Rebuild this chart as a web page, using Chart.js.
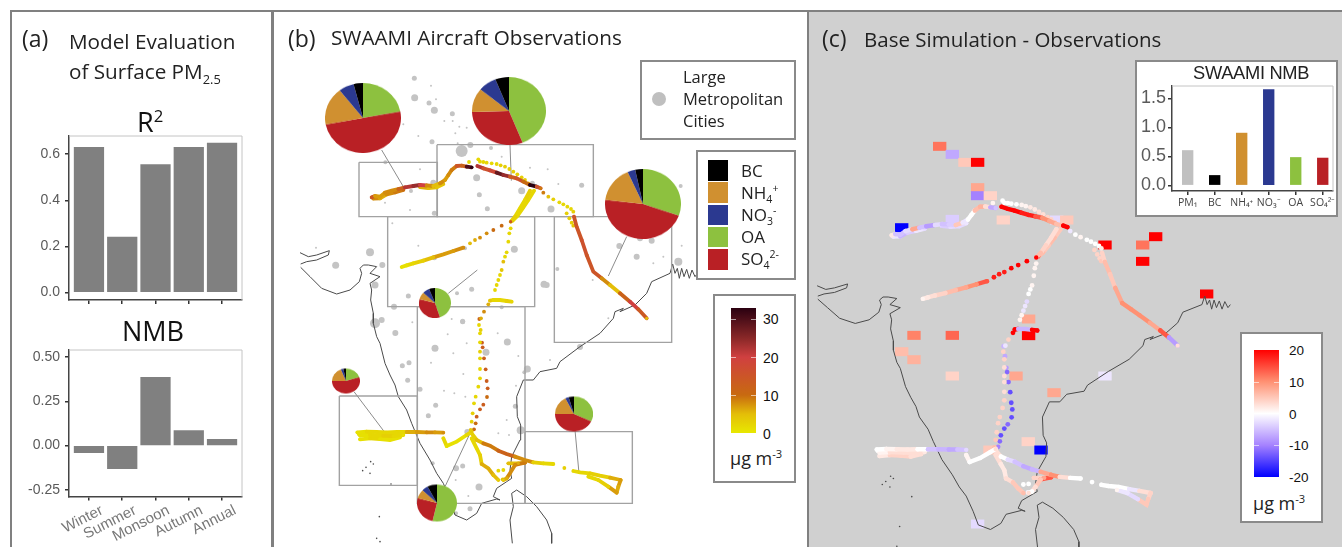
<!DOCTYPE html>
<html><head><meta charset="utf-8">
<script src="https://cdn.jsdelivr.net/npm/chart.js@4"></script>
<style>
html,body{margin:0;padding:0;background:#fff;width:1342px;height:547px;overflow:hidden}
#page{position:relative;width:1342px;height:547px;overflow:hidden;filter:blur(0.45px)}
#page>*{position:absolute}
canvas{position:absolute}
.t{font-family:"Open Sans",sans-serif;color:#222;white-space:nowrap;line-height:1}
.a{font-family:"Liberation Sans",sans-serif;white-space:nowrap;line-height:1}
.box{background:#fff;border:2px solid #8a8a8a;box-sizing:border-box}
.line{background:#808080}
sub,sup{font-size:62%;line-height:0}
</style></head><body><div id="page">
<div class="line" style="left:10px;top:10px;width:1332px;height:2px"></div>
<div class="line" style="left:10px;top:10px;width:2px;height:537px"></div>
<div class="line" style="left:271px;top:10px;width:3px;height:537px"></div>
<div style="left:808px;top:12px;width:534px;height:535px;background:#d0d0d0"></div>
<div class="line" style="left:807px;top:10px;width:2px;height:537px"></div>

<canvas id="r2" width="240" height="183" style="left:10px;top:130px"></canvas>
<canvas id="nmb" width="240" height="202" style="left:10px;top:345px"></canvas>
<canvas id="mapB" width="532" height="547" style="left:275px;top:0"></canvas>
<canvas id="mapC" width="533" height="547" style="left:809px;top:0"></canvas>

<div class="t" style="left:22px;top:27px;font-size:23px">(a)</div>
<div class="t" style="left:69px;top:31px;font-size:20.7px">Model Evaluation</div>
<div class="t" style="left:69px;top:61px;font-size:20.7px">of Surface PM<sub>2.5</sub></div>
<div class="t" style="left:137px;top:108px;font-size:27px;color:#111">R<sup>2</sup></div>
<div class="t" style="left:122px;top:317px;font-size:27px;color:#111">NMB</div>
<div class="t" style="left:288px;top:27px;font-size:23px">(b)</div>
<div class="t" style="left:331px;top:27px;font-size:20.7px">SWAAMI Aircraft Observations</div>
<div class="t" style="left:822px;top:27px;font-size:23px">(c)</div>
<div class="t" style="left:864px;top:29px;font-size:20.5px">Base Simulation - Observations</div>

<div class="box" style="left:640px;top:60px;width:156px;height:80px"></div>
<div style="left:652px;top:92px;width:14px;height:14px;border-radius:50%;background:#bfbfbf"></div>
<div class="t" style="left:683px;top:69px;font-size:16.5px">Large</div>
<div class="t" style="left:683px;top:91px;font-size:16.5px">Metropolitan</div>
<div class="t" style="left:683px;top:113px;font-size:16.5px">Cities</div>

<div class="box" style="left:696px;top:150px;width:100px;height:130px"></div>
<div id="swatches" style="left:0;top:0"></div>
<div class="t" style="left:741px;top:162px;font-size:17px">BC</div>
<div class="t" style="left:741px;top:184px;font-size:17px">NH<sub>4</sub><sup>+</sup></div>
<div class="t" style="left:741px;top:206px;font-size:17px">NO<sub>3</sub><sup>-</sup></div>
<div class="t" style="left:741px;top:228px;font-size:17px">OA</div>
<div class="t" style="left:741px;top:250px;font-size:17px">SO<sub>4</sub><sup>2-</sup></div>

<div class="box" style="left:713px;top:294px;width:83px;height:189px"></div>
<div id="barB" style="left:731px;top:308px;width:25px;height:125px"></div>
<div class="a" style="left:763px;top:312px;font-size:14px;color:#111">30</div>
<div class="a" style="left:763px;top:351px;font-size:14px;color:#111">20</div>
<div class="a" style="left:763px;top:389px;font-size:14px;color:#111">10</div>
<div class="a" style="left:763px;top:427px;font-size:14px;color:#111">0</div>
<div class="t" style="left:730px;top:449px;font-size:18px">µg m<sup>-3</sup></div>

<div class="box" style="left:1135px;top:60px;width:203px;height:157px"></div>
<canvas id="inset" width="200" height="134" style="left:1137px;top:82px"></canvas>
<div class="a" style="left:1193px;top:64px;font-size:18.3px;color:#222;letter-spacing:-.3px">SWAAMI NMB</div>

<div class="box" style="left:1240px;top:332px;width:83px;height:191px"></div>
<div id="barC" style="left:1254px;top:350px;width:25px;height:127px"></div>
<div class="a" style="left:1289px;top:344px;font-size:13.5px;color:#111">20</div>
<div class="a" style="left:1289px;top:376px;font-size:13.5px;color:#111">10</div>
<div class="a" style="left:1289px;top:408px;font-size:13.5px;color:#111">0</div>
<div class="a" style="left:1289px;top:439px;font-size:13.5px;color:#111">-10</div>
<div class="a" style="left:1289px;top:471px;font-size:13.5px;color:#111">-20</div>
<div class="t" style="left:1253px;top:494px;font-size:18px">µg m<sup>-3</sup></div>
<div id="pies" style="left:0;top:0"></div>
</div>
<script>
// ---------- panel (a) ----------
const seasons=["Winter","Summer","Monsoon","Autumn","Annual"];
const r2Values=[0.63,0.24,0.555,0.63,0.648];
const nmbValues=[-0.04,-0.13,0.385,0.085,0.035];
const r2Ticks=[0,0.2,0.4,0.6];
const nmbTicks=[-0.25,0,0.25,0.5];
// ---------- inset (c) ----------
const species=["PM₁","BC","NH₄⁺","NO₃⁻","OA","SO₄²⁻"];
const swaamiNmb=[0.6,0.17,0.9,1.65,0.48,0.47];
const swaamiTicks=[0,0.5,1,1.5];
// ---------- pies: OA, SO4, NH4, NO3, BC (%) ----------
const pieNw=[22,50,17.5,6.5,4];
const pieNorth=[44,30.6,11.4,8,6];
const pieEast=[30.4,46.5,16.5,3.3,3.3];
const pieCentre=[45,34,8,7,6];
const pieWest=[20,55,19,3,3];
const pieSouth=[53.6,25.6,8,5,7.8];
const pieSouthEast=[32,43,17.5,3,4.5];
// Map data: E = arc-minutes east of 69°E, S = arc-minutes south of 33°N
// flight legs: position, PM1 (µg m-3), model bias (µg m-3)
const nwE=[275,285,300,315,335,355,375,400,420,440,460,480,495,505,515,530,545,560,575];
const nwS=[412,408,410,398,392,387,382,378,375,376,378,370,360,345,330,318,317,320,322];
const nwPm=[14,7,7,8,8,12,22,24,20,8,5,8,7,8,9,15,12,30,33];
const nwBias=[2,-5,-5,-3,8,-5,-8,-3,-5,-4,5,-2,0,0,6,7,3,-7,-5];
const nw2E=[280,300,320,345,370];
const nw2S=[416,415,403,397,390];
const nw2Pm=[8,6,8,9,10];
const nw2Bias=[-2,-6,-4,-2,-3];
const nw3E=[420,445,470,490];
const nw3S=[381,384,382,372];
const nw3Pm=[6,5,4,5];
const nw3Bias=[-4,-3,-3,-2];
const delhiE=[592,610,630,650,670,690,710,730,750,770,782];
const delhiS=[318,325,331,338,345,350,355,365,375,380,385];
const delhiPm=[22,16,18,28,24,14,16,10,33,16,9];
const delhiBias=[20,20,20,18,18,14,10,8,6,20,20];
const topE=[567,595,600,610,620,635,650,662,675,688,700,712,725,735,745];
const topS=[306,298,305,306,308,310,312,316,320,327,335,343,352,360,370];
const topPm=[2,2,2,2,2,2,2,3,3,3,3,3,3,3,4];
const topBias=[1,0,0,0,0,0,1,1,2,2,3,3,4,4,5];
const se1E=[790,805,820,838,850,862,873,880];
const se1S=[398,410,418,427,433,440,447,455];
const se1Pm=[9,5,3,2,2,2,2,3];
const se1Bias=[-2,0,1,0,0,0,0,2];
const se2E=[860,868,875,880];
const se2S=[460,475,488,497];
const se2Pm=[3,3,3,4];
const se2Bias=[4,4,4,5];
const se3E=[882,890,905,920,940,965,990,1020,1050,1075,1100];
const se3S=[470,500,540,585,635,655,675,700,725,748,775];
const se3Pm=[15,15,16,15,15,8,5,12,20,14,5];
const se3Bias=[4,6,5,8,10,10,10,8,14,-8,3];
const sw1E=[750,735,720,705,692];
const sw1S=[392,420,445,470,485];
const sw1Pm=[3,2,2,3,14];
const sw1Bias=[3,3,4,6,20];
const sw2E=[762,745,728,712,698];
const sw2S=[392,420,445,468,482];
const sw2Pm=[2,2,2,2,4];
const sw2Bias=[5,6,5,6,14];
const sw3E=[665,640,620,600,585,570];
const sw3S=[497,510,520,533,540,550];
const sw3Pm=[10,10,8,8,6,5];
const sw3Bias=[20,20,20,18,18,18];
const sw4E=[550,520,490,460,430,400,380,365];
const sw4S=[563,573,583,592,602,610,616,621];
const sw4Pm=[8,7,7,5,3,2,1,1];
const sw4Bias=[14,10,8,6,4,3,2,1];
const so1E=[692,688,685,680,675,670,665,660,655,650,645];
const so1S=[505,520,545,577,590,605,630,645,660,675,690];
const so1Pm=[2,2,2,2,2,5,4,2,2,2,2];
const so1Bias=[1,1,1,1,0,0,-3,-2,-2,1,1];
const jctE=[630,640,660,680,695];
const jctS=[722,720,720,723,725];
const jctPm=[4,2,2,3,2];
const jctBias=[20,-6,-6,20,20];
const so2E=[625,612,603,597,600,600,600,600,600,600,595,587,582,578,575,572];
const so2S=[733,755,775,795,820,847,875,895,927,955,980,1010,1030,1060,1085,1110];
const so2Pm=[6,8,6,2,2,2,3,2,2,2,2,2,2,3,3,4];
const so2Bias=[20,4,-2,4,4,3,3,3,3,4,4,4,4,4,5,6];
const so3E=[598,602,606,608,612,617,620,623,621,610,600,590,587,582];
const so3S=[777,810,848,862,895,928,963,985,1011,1034,1048,1070,1090,1108];
const so3Pm=[12,3,13,13,13,13,13,13,10,13,13,13,10,10];
const so3Bias=[-6,-7,-8,-12,-12,-14,-14,-14,-14,-12,-14,-14,-12,-10];
const wi1E=[232,260,290,320,350,380,410,440,465,490];
const wi1S=[1117,1115,1116,1117,1116,1116,1116,1117,1117,1118];
const wi1Pm=[1,2,2,2,2,6,7,8,7,8];
const wi1Bias=[0,1,2,2,0,-5,-6,-7,-5,-3];
const wi2E=[240,270,310,340,370];
const wi2S=[1127,1125,1127,1128,1125];
const wi2Pm=[1,2,3,2,1];
const wi2Bias=[1,3,3,3,2];
const wi3E=[240,270,300,330,360];
const wi3S=[1138,1135,1137,1140,1132];
const wi3Pm=[1,2,1,1,1];
const wi3Bias=[2,4,4,3,3];
const wi4E=[236,262,295,325,355];
const wi4S=[1122,1120,1131,1133,1121];
const wi4Pm=[1,1,2,2,1];
const wi4Bias=[0,2,5,4,1];
const zigE=[490,500,530,560,575];
const zigS=[1135,1158,1145,1125,1115];
const zigPm=[2,1,1,2,4];
const zigBias=[1,0,0,0,3];
const hubE=[575,590,610,630,655,680,705,735,760,790,820];
const hubS=[1120,1140,1150,1157,1172,1182,1190,1200,1207,1210,1212];
const hubPm=[3,5,9,9,12,12,8,8,3,2,2];
const hubBias=[3,0,-3,-5,-7,-6,8,10,3,0,0];
const lone1E=[853];const lone1S=[1224];const lone1Pm=[3];const lone1Bias=[0];
const farE=[880,900,930,960,990,1022,1015,1010,985,955,925];
const farS=[1233,1237,1240,1247,1253,1260,1280,1298,1280,1260,1250];
const farPm=[2,2,3,3,6,7,6,7,3,2,2];
const farBias=[0,0,0,-2,3,4,5,5,-3,-2,1];
const retE=[685,715,735,705,690,680,670];
const retS=[1210,1210,1208,1215,1240,1255,1260];
const retPm=[5,6,9,8,8,6,3];
const retBias=[4,8,14,5,3,0,3];
const hsE=[575,590,600,605,625,640,655];
const hsS=[1135,1165,1185,1212,1225,1245,1260];
const hsPm=[2,2,3,6,6,5,3];
const hsBias=[3,2,2,3,5,5,6];
const spE=[655,670,668];const spS=[1232,1230,1258];const spPm=[2,2,4];const spBias=[0,0,-1];
// cities
const cityE=[403,453,404,447,463,468,517,493,518,526,538,560,456,415,370,545,571,533,633,665,590,598,622,725,750,803,905,835,813,757,820,316,420,460,393,315,390,463,337,415,463,555,703,270,167,307,285,385,342,531,575,665,548,792,800,832,1018,1070,1115,1080,1195,1202,1205,1150,1120,938,108,285,305,346,397,548,515,503,653,682,465,560,618,520,453,367,387,383,420,550,492,523,467,445,556,715,742,733,708,706,722,655,687,680,562,548,528,458,597,527,570,528,565,900,810,985];
const cityS=[55,77,113,129,151,118,161,183,183,220,200,203,245,228,193,273,255,250,264,290,353,404,446,392,323,328,376,372,447,370,420,307,328,368,393,428,450,460,490,557,593,565,568,577,616,615,675,708,740,700,688,742,785,673,675,627,558,590,542,535,605,378,557,590,610,660,563,790,780,819,787,784,777,823,820,846,865,850,877,880,908,917,908,961,988,942,992,1000,1036,1067,1010,888,927,937,977,1039,1111,1120,1125,1080,1116,1218,1225,1210,1281,1260,1346,1360,1308,861,900,775];
const cityRank=[2.5,1,3.5,2.5,3.5,1,2.5,1,1,1,1,1,2.5,1,1,6,3,1,2,1,3.5,2.5,2.5,3.5,1,1,2.5,1,3.5,2.5,1,2,1,3,2,1,1,2.5,1,1,2.5,2,3.5,4,3.5,3,3.5,2.5,3,2,2.5,2,2.5,3.5,3,2,3,3,3,3,4,2,1,1,1,1,1,5,3,3,1,2.5,1,1,1,3.5,3.5,1,3.5,1,1,2.5,2.5,2.5,2.5,1,1,1,2.5,2.5,1,1,3.5,2,1,2.5,4,1,1,1,3,2.5,3,2,3.5,1,2.5,2,1,3,1,1];
const islandE=[248,270,280,333,298,290,300,272,258];
const islandS=[1232,1240,1212,1272,1370,1435,1445,1205,1222];
// coast
const kutchE=[60,85,110,148,145,110,80,62];
const kutchS=[578,590,585,572,585,600,605,612];
const coastE=[62,90,125,170,210,238,245,240,250,265,290,270,300,270,275,272,280,280,290,300,315,330,345,355,380,395,420,450,470,490,510,525,560,590,605,650,660,640,650,680,695,690,695,720,722,712,710,730,760,780,830,840,900,960,1000,1005,1030,1020,1065,1100,1115,1170,1178,1185,1192,1198,1205,1212,1220,1228,1236,1245,1252];
const coastS=[622,650,685,702,690,665,640,625,615,615,620,640,650,670,690,720,760,790,830,850,910,945,975,1010,1050,1090,1150,1200,1240,1270,1320,1365,1380,1360,1330,1317,1320,1310,1285,1265,1255,1230,1190,1140,1095,1070,1010,960,960,935,925,905,860,820,775,755,745,755,735,700,665,640,612,640,625,655,625,650,628,655,630,650,640];
const lankaE=[697,690,700,695,710,740,770,800,815,815];
const lankaS=[1450,1380,1340,1300,1290,1310,1340,1380,1420,1450];
// sampling regions and pie leader lines
const regionW=[237,471,323,412,735,178,823];
const regionEast=[472,940,764,735,1057,412,1175];
const regionN=[307,254,470,740,1115,1008,470];
const regionSouth=[470,470,740,1330,1330,1276,847];
const leadE0=[305,690,1040,505,222,495,885];
const leadS0=[270,255,530,700,995,1280,1110];
const leadE1=[370,694,985,592,318,570,897];
const leadS1=[380,362,648,630,1122,1120,1240];
// surface grid cells in (c)
const cellE=[413.5,450,486.5,523,523,523,559.6,450,597,304,751,780,890.4,999,1036.5,999,1183.6,670,670,339.4,450,304,339.4,450,633.7,743.3,890.4,669,705.8,558.6,523];
const cellS=[119.2,145.6,171.9,171.9,255.2,281.6,281.6,359.4,361.6,386.9,361.6,361.6,443.9,443.9,416.5,497.7,605,687.4,742.2,741.2,741.2,794.9,821.2,875,875,929.8,875,1091,1118.5,1118.5,1362];
const cellBias=[12,-7,5,20,8,-10,4,-4,4,-20,-3,5,20,12,20,20,20,8,20,11,13,6,7,4,8,8,-2,4,-20,5,-3];
// colour scales
const pmStops=[0,5,10,20,25,33];
const pmColors=[[232,232,0],[228,190,8],[200,106,16],[208,64,64],[138,40,40],[42,0,16]];
const biasStops=[-20,-10,0,10,20];
const biasColors=[[0,0,255],[165,130,255],[255,255,255],[255,145,115],[255,0,0]];
const chemColors={BC:"#000000",NH4:"#d09030",NO3:"#2b3990",OA:"#8dc13f",SO4:"#b92025",PM:"#c0c0c0"};

function ramp(stops,cols,v){
  if(v<=stops[0])return `rgb(${cols[0]})`;
  for(let i=1;i<stops.length;i++){if(v<=stops[i]){const f=(v-stops[i-1])/(stops[i]-stops[i-1]);
    const c=cols[i].map((k,j)=>Math.round(cols[i-1][j]+(k-cols[i-1][j])*f));return `rgb(${c})`;}}
  return `rgb(${cols[cols.length-1]})`;
}
const pmCol=v=>ramp(pmStops,pmColors,v), biasCol=v=>ramp(biasStops,biasColors,v);

const frame={id:"frame",afterDraw(c){const a=c.chartArea,x=c.ctx;x.save();x.strokeStyle="#c4c4c4";x.lineWidth=1;
  x.beginPath();x.moveTo(a.left,a.top);x.lineTo(a.right,a.top);x.lineTo(a.right,a.bottom);x.stroke();x.restore();}};
function barChart(id,labels,values,ticksY,o){
  new Chart(document.getElementById(id),{type:"bar",plugins:[frame],
   data:{datasets:[{data:values.map((v,i)=>({x:i+1,y:v})),backgroundColor:o.colors,barThickness:o.bar}]},
   options:{responsive:false,animation:false,layout:{padding:o.pad,autoPadding:false},
    plugins:{legend:{display:false},tooltip:{enabled:false}},
    scales:{
     x:{type:"linear",offset:false,min:o.xr[0],max:o.xr[1],grid:{offset:false,drawOnChartArea:false,tickLength:4,tickColor:"#333",lineWidth:1.5},border:{color:"#444",width:1.5},
        afterBuildTicks:a=>{a.ticks=labels.map((l,i)=>({value:i+1}));},
        afterFit:a=>{a.height=o.h;a.paddingLeft=0;a.paddingRight=0;a.paddingTop=0;a.paddingBottom=0;},
        ticks:{display:o.showX,autoSkip:false,minRotation:o.rot,maxRotation:o.rot,labelOffset:o.lo,color:o.xc,font:{family:o.xf,size:o.xs},padding:o.xp,callback:v=>labels[v-1]}},
     y:{min:o.yr[0],max:o.yr[1],grid:{drawOnChartArea:false,tickLength:4,tickColor:"#333",lineWidth:1.5},border:{color:"#444",width:1.5},
        afterBuildTicks:a=>{a.ticks=ticksY.map(value=>({value}));},
        afterFit:a=>{a.width=o.w;a.paddingLeft=0;a.paddingRight=0;a.paddingTop=0;a.paddingBottom=0;},
        ticks:{color:"#5a5a5a",font:{family:"Liberation Sans",size:o.ys},padding:o.yp,callback:v=>v.toFixed(o.dec)}}
    }}});
}
const grey=seasons.map(()=>"#808080");
barChart("r2",seasons,r2Values,r2Ticks,{colors:grey,bar:29.6,pad:{top:6,right:8},xr:[0.4,5.6],yr:[-0.033,0.679],w:59,h:13,showX:false,rot:0,lo:0,xc:"#777",xf:"Liberation Sans",xs:14,xp:2,ys:14,yp:5,dec:1});
barChart("nmb",seasons,nmbValues,nmbTicks,{colors:grey,bar:29.6,pad:{top:5,right:8},xr:[0.4,5.6],yr:[-0.287,0.539],w:59,h:50.5,showX:true,rot:27,lo:13,xc:"#777",xf:"Liberation Sans",xs:15,xp:1,ys:14,yp:5,dec:2});
barChart("inset",species,swaamiNmb,swaamiTicks,{colors:[chemColors.PM,chemColors.BC,chemColors.NH4,chemColors.NO3,chemColors.OA,chemColors.SO4],bar:10.7,pad:{top:4,right:4},xr:[0.42,6.38],yr:[-0.098,1.712],w:35,h:25,showX:true,rot:0,lo:0,xc:"#444",xf:"Open Sans",xs:10.5,xp:2,ys:18,yp:2,dec:1});

const denseLegs=[[nwE,nwS,nwPm,nwBias],[nw2E,nw2S,nw2Pm,nw2Bias],[nw3E,nw3S,nw3Pm,nw3Bias],[delhiE,delhiS,delhiPm,delhiBias],[se3E,se3S,se3Pm,se3Bias],[sw1E,sw1S,sw1Pm,sw1Bias],[sw2E,sw2S,sw2Pm,sw2Bias],[sw4E,sw4S,sw4Pm,sw4Bias],[jctE,jctS,jctPm,jctBias],[wi1E,wi1S,wi1Pm,wi1Bias],[wi2E,wi2S,wi2Pm,wi2Bias],[wi3E,wi3S,wi3Pm,wi3Bias],[wi4E,wi4S,wi4Pm,wi4Bias],[zigE,zigS,zigPm,zigBias],[hubE,hubS,hubPm,hubBias],[farE,farS,farPm,farBias],[retE,retS,retPm,retBias],[hsE,hsS,hsPm,hsBias]];
const sparseLegs=[[topE,topS,topPm,topBias],[se1E,se1S,se1Pm,se1Bias],[se2E,se2S,se2Pm,se2Bias],[sw3E,sw3S,sw3Pm,sw3Bias],[so1E,so1S,so1Pm,so1Bias],[so2E,so2S,so2Pm,so2Bias],[so3E,so3S,so3Pm,so3Bias],[lone1E,lone1S,lone1Pm,lone1Bias],[spE,spS,spPm,spBias]];
const xy=(E,S)=>E.map((x,i)=>({x,y:S[i]}));
function baseDatasets(coastColor){
  const ds=[];
  [[kutchE,kutchS],[coastE,coastS],[lankaE,lankaS]].forEach(p=>ds.push({type:"scatter",showLine:true,data:xy(p[0],p[1]),borderColor:coastColor,borderWidth:1,pointRadius:0,order:5}));
  ds.push({type:"scatter",data:xy(islandE,islandS),backgroundColor:coastColor,pointRadius:0.8,pointBorderWidth:0,order:5});
  return ds;
}
function legDatasets(field,col,lw,rDense,rSparse){
  const ds=[];
  denseLegs.forEach(l=>ds.push({type:"scatter",showLine:true,data:l[0].map((x,i)=>({x,y:l[1][i],v:l[field][i]})),
    borderWidth:lw,borderCapStyle:"round",segment:{borderColor:c=>col(c.p0.raw.v)},
    pointRadius:rDense,pointBorderWidth:0,pointBackgroundColor:c=>col(c.raw.v),order:1}));
  sparseLegs.forEach(l=>ds.push({type:"scatter",data:l[0].map((x,i)=>({x,y:l[1][i],v:l[field][i]})),
    pointRadius:rSparse,pointBorderWidth:0,pointBackgroundColor:c=>col(c.raw.v),order:1}));
  return ds;
}
function mapOptions(xr,yr){return {responsive:false,animation:false,layout:{padding:0,autoPadding:false},
  plugins:{legend:{display:false},tooltip:{enabled:false}},
  scales:{x:{type:"linear",display:false,offset:false,min:xr[0],max:xr[1]},y:{type:"linear",display:false,reverse:true,min:yr[0],max:yr[1]}}};}

// panel (b)
const dsB=baseDatasets("#4a4a4a");
dsB.push({type:"scatter",data:cityE.map((x,i)=>({x,y:cityS[i]})),backgroundColor:"#c4c4c4",pointRadius:c=>cityRank[c.dataIndex],pointBorderWidth:0,order:6});
regionW.forEach((w,i)=>dsB.push({type:"scatter",showLine:true,data:xy([w,regionEast[i],regionEast[i],w,w],[regionN[i],regionN[i],regionSouth[i],regionSouth[i],regionN[i]]),borderColor:"#a2a2a2",borderWidth:1.4,pointRadius:0,order:4}));
leadE0.forEach((e,i)=>dsB.push({type:"scatter",showLine:true,data:xy([e,leadE1[i]],[leadS0[i],leadS1[i]]),borderColor:"#8c8c8c",borderWidth:1,pointRadius:0,order:3}));
dsB.push(...legDatasets(2,pmCol,3.8,1.6,1.9));
new Chart(document.getElementById("mapB"),{type:"scatter",data:{datasets:dsB},options:mapOptions([-15,1581],[-180,1461])});

// panel (c)
const dsC=baseDatasets("#4a4a4a");
dsC.push({type:"bar",data:cellE.map((x,i)=>({x,y:[cellS[i]-13.7,cellS[i]+13.7]})),backgroundColor:cellBias.map(biasCol),barThickness:12.7,order:6});
dsC.push(...legDatasets(3,biasCol,4.4,2.2,2.4));
new Chart(document.getElementById("mapC"),{type:"scatter",data:{datasets:dsC},options:mapOptions([36.6,1574],[-362.3,1437.6])});

// pies
const pieColors=[chemColors.OA,chemColors.SO4,chemColors.NH4,chemColors.NO3,chemColors.BC];
const pieHolder=document.getElementById("pies");
function pie(vals,cx,cy,w,h){
  const c=document.createElement("canvas");c.width=w;c.height=w;
  c.style.cssText=`left:${cx-w/2}px;top:${cy-w/2}px;transform:scaleY(${h/w})`;
  pieHolder.appendChild(c);
  new Chart(c,{type:"pie",data:{labels:["OA","SO4","NH4","NO3","BC"],datasets:[{data:vals,backgroundColor:pieColors,borderWidth:0}]},
   options:{responsive:false,animation:false,layout:{padding:0,autoPadding:false},plugins:{legend:{display:false},tooltip:{enabled:false}}}});
}
pie(pieNw,363,118,76,70);
pie(pieNorth,509,111,74,68);
pie(pieEast,643,204,76,70);
pie(pieCentre,435,303,32,30);
pie(pieWest,346,381,28,25);
pie(pieSouth,437,503,40,37);
pie(pieSouthEast,574,414,38,35);

// legend swatches and colour bars
const sw=document.getElementById("swatches");
[chemColors.BC,chemColors.NH4,chemColors.NO3,chemColors.OA,chemColors.SO4].forEach((c,i)=>{
  const d=document.createElement("div");d.style.cssText=`position:absolute;left:708px;top:${160+i*22.3}px;width:20px;height:20.5px;background:${c}`;sw.appendChild(d);});
function grad(el,stops,cols,max,min,ticks){
  const parts=[];for(let i=0;i<stops.length;i++){parts.push(`rgb(${cols[i]}) ${(stops[i]-min)/(max-min)*100}%`);}
  el.style.background=`linear-gradient(to top,${parts.join(",")})`;
  ticks.forEach(t=>{const p=(max-t)/(max-min)*100;
    [0,20].forEach(l=>{const m=document.createElement("div");m.style.cssText=`position:absolute;left:${l}px;top:${p}%;width:5px;height:1px;background:rgba(255,255,255,.6)`;el.appendChild(m);});});
}
grad(document.getElementById("barB"),pmStops,pmColors,33,0,[10,20,30]);
grad(document.getElementById("barC"),biasStops,biasColors,20,-20,[-10,10]);
</script></body></html>
